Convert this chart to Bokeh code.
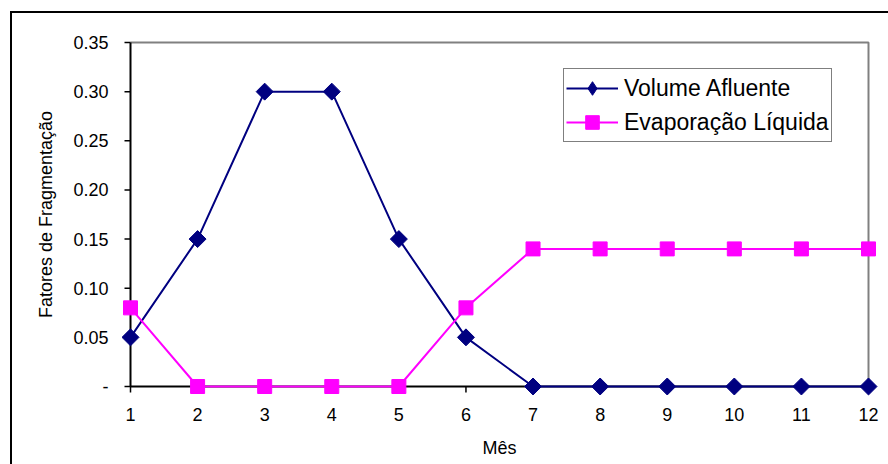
from bokeh.plotting import figure
from bokeh.models import (Range1d, FixedTicker, Legend, LegendItem, ColumnDataSource)
from bokeh.embed import file_html
from bokeh.resources import INLINE
import math
import numpy as np

months = [1, 2, 3, 4, 5, 6, 7, 8, 9, 10, 11, 12]
volume_afluente = [0.05, 0.15, 0.30, 0.30, 0.15, 0.05, 0, 0, 0, 0, 0, 0]
evaporacao_liquida = [0.08, 0, 0, 0, 0, 0.08, 0.14, 0.14, 0.14, 0.14, 0.14, 0.14]
y_ticks = [0, 0.05, 0.10, 0.15, 0.20, 0.25, 0.30, 0.35]
y_tick_labels = ["-", "0.05", "0.10", "0.15", "0.20", "0.25", "0.30", "0.35"]
series_names = ["Volume Afluente", "Evaporação Líquida"]

FONT = "Liberation Sans"
NAVY = "#000080"
MAGENTA = "#FF00FF"

x_min, x_max = months[0], months[-1]
y_min, y_max = y_ticks[0], y_ticks[-1]

# plot area in pixels: x 130..868, y 42..386 ; frame padded by 10px so markers are not clipped
pad = 10
tick_len = 6
px_x = (868 - 130) / (x_max - x_min)
px_y = (386 - 42) / (y_max - y_min)
dx_pad, dy_pad = pad / px_x, pad / px_y
dx_tick, dy_tick = tick_len / px_x, tick_len / px_y

p = figure(width=888, height=464, output_backend="svg", toolbar_location=None,
           x_range=Range1d(x_min - dx_pad, x_max + dx_pad),
           y_range=Range1d(y_min - dy_pad, y_max + dy_pad),
           min_border_left=120, min_border_right=10,
           min_border_top=32, min_border_bottom=68)
p.outline_line_color = None
p.grid.visible = False
p.background_fill_color = "white"
p.border_fill_color = None
# outer chart-area border (top and left edges visible; the rest runs off the page)
p.styles = {"background": "linear-gradient(#000, #000) 10px 11px / 2px 100% no-repeat, "
                          "linear-gradient(#000, #000) 10px 11px / 100% 2px no-repeat, #fff"}

# gray top / right frame lines
p.line([x_min, x_max, x_max], [y_max, y_max, y_min], line_color="#808080", line_width=2)
# black axis lines and outward ticks
p.line([x_min, x_min, x_max], [y_max, y_min, y_min], line_color="black", line_width=2)
p.segment(x0=[x_min - dx_tick] * len(y_ticks), y0=y_ticks, x1=[x_min] * len(y_ticks), y1=y_ticks,
          line_color="black", line_width=1.5)
p.segment(x0=months, y0=[y_min - dy_tick] * len(months), x1=months, y1=[y_min] * len(months),
          line_color="black", line_width=1.5)

src = ColumnDataSource(dict(x=months, v=volume_afluente, e=evaporacao_liquida))
l1 = p.line("x", "v", source=src, line_color=NAVY, line_width=2)
m1 = p.scatter("x", "v", source=src, marker="square", size=12, angle=math.pi / 4,
               fill_color=NAVY, line_color=NAVY)
l2 = p.line("x", "e", source=src, line_color=MAGENTA, line_width=2)
m2 = p.scatter("x", "e", source=src, marker="square", size=14,
               fill_color=MAGENTA, line_color=MAGENTA)
# legend-only diamond glyph (a single undrawn NaN point)
proxy = ColumnDataSource(dict(x=np.array([np.nan]), y=np.array([np.nan])))
leg_diamond = p.scatter("x", "y", source=proxy, marker="diamond", size=12,
                        fill_color=NAVY, line_color=NAVY)

# axes (lines/ticks hidden; drawn above at the data edges)
xa = p.xaxis[0]
xa.ticker = FixedTicker(ticks=months)
xa.axis_label = "Mês"
ya = p.yaxis[0]
ya.ticker = FixedTicker(ticks=y_ticks)
ya.major_label_overrides = {t: s for t, s in zip(y_ticks, y_tick_labels)}
ya.axis_label = "Fatores de Fragmentação"

for ax in (xa, ya):
    ax.axis_line_color = None
    ax.major_tick_line_color = None
    ax.major_tick_in = 0
    ax.major_tick_out = 0
    ax.minor_tick_line_color = None
    ax.major_label_text_font = FONT
    ax.major_label_text_font_size = "18px"
    ax.major_label_text_color = "black"
    ax.axis_label_text_font = FONT
    ax.axis_label_text_font_size = "18px"
    ax.axis_label_text_font_style = "normal"
    ax.axis_label_text_color = "black"
xa.major_label_standoff = 11
xa.axis_label_standoff = 14
ya.major_label_standoff = 12
ya.axis_label_standoff = 14

legend = Legend(items=[LegendItem(label=series_names[0], renderers=[l1, leg_diamond]),
                       LegendItem(label=series_names[1], renderers=[l2, m2])],
                location=(443, 254), orientation="vertical",
                label_text_font=FONT, label_text_font_size="23px", label_text_color="black",
                glyph_width=52, glyph_height=34, label_height=34, label_standoff=6,
                spacing=0, padding=2, margin=0,
                border_line_color="black", border_line_width=1.5,
                background_fill_color="white", background_fill_alpha=1)
p.add_layout(legend, "center")

open("out.html", "w").write(file_html(p, INLINE))
